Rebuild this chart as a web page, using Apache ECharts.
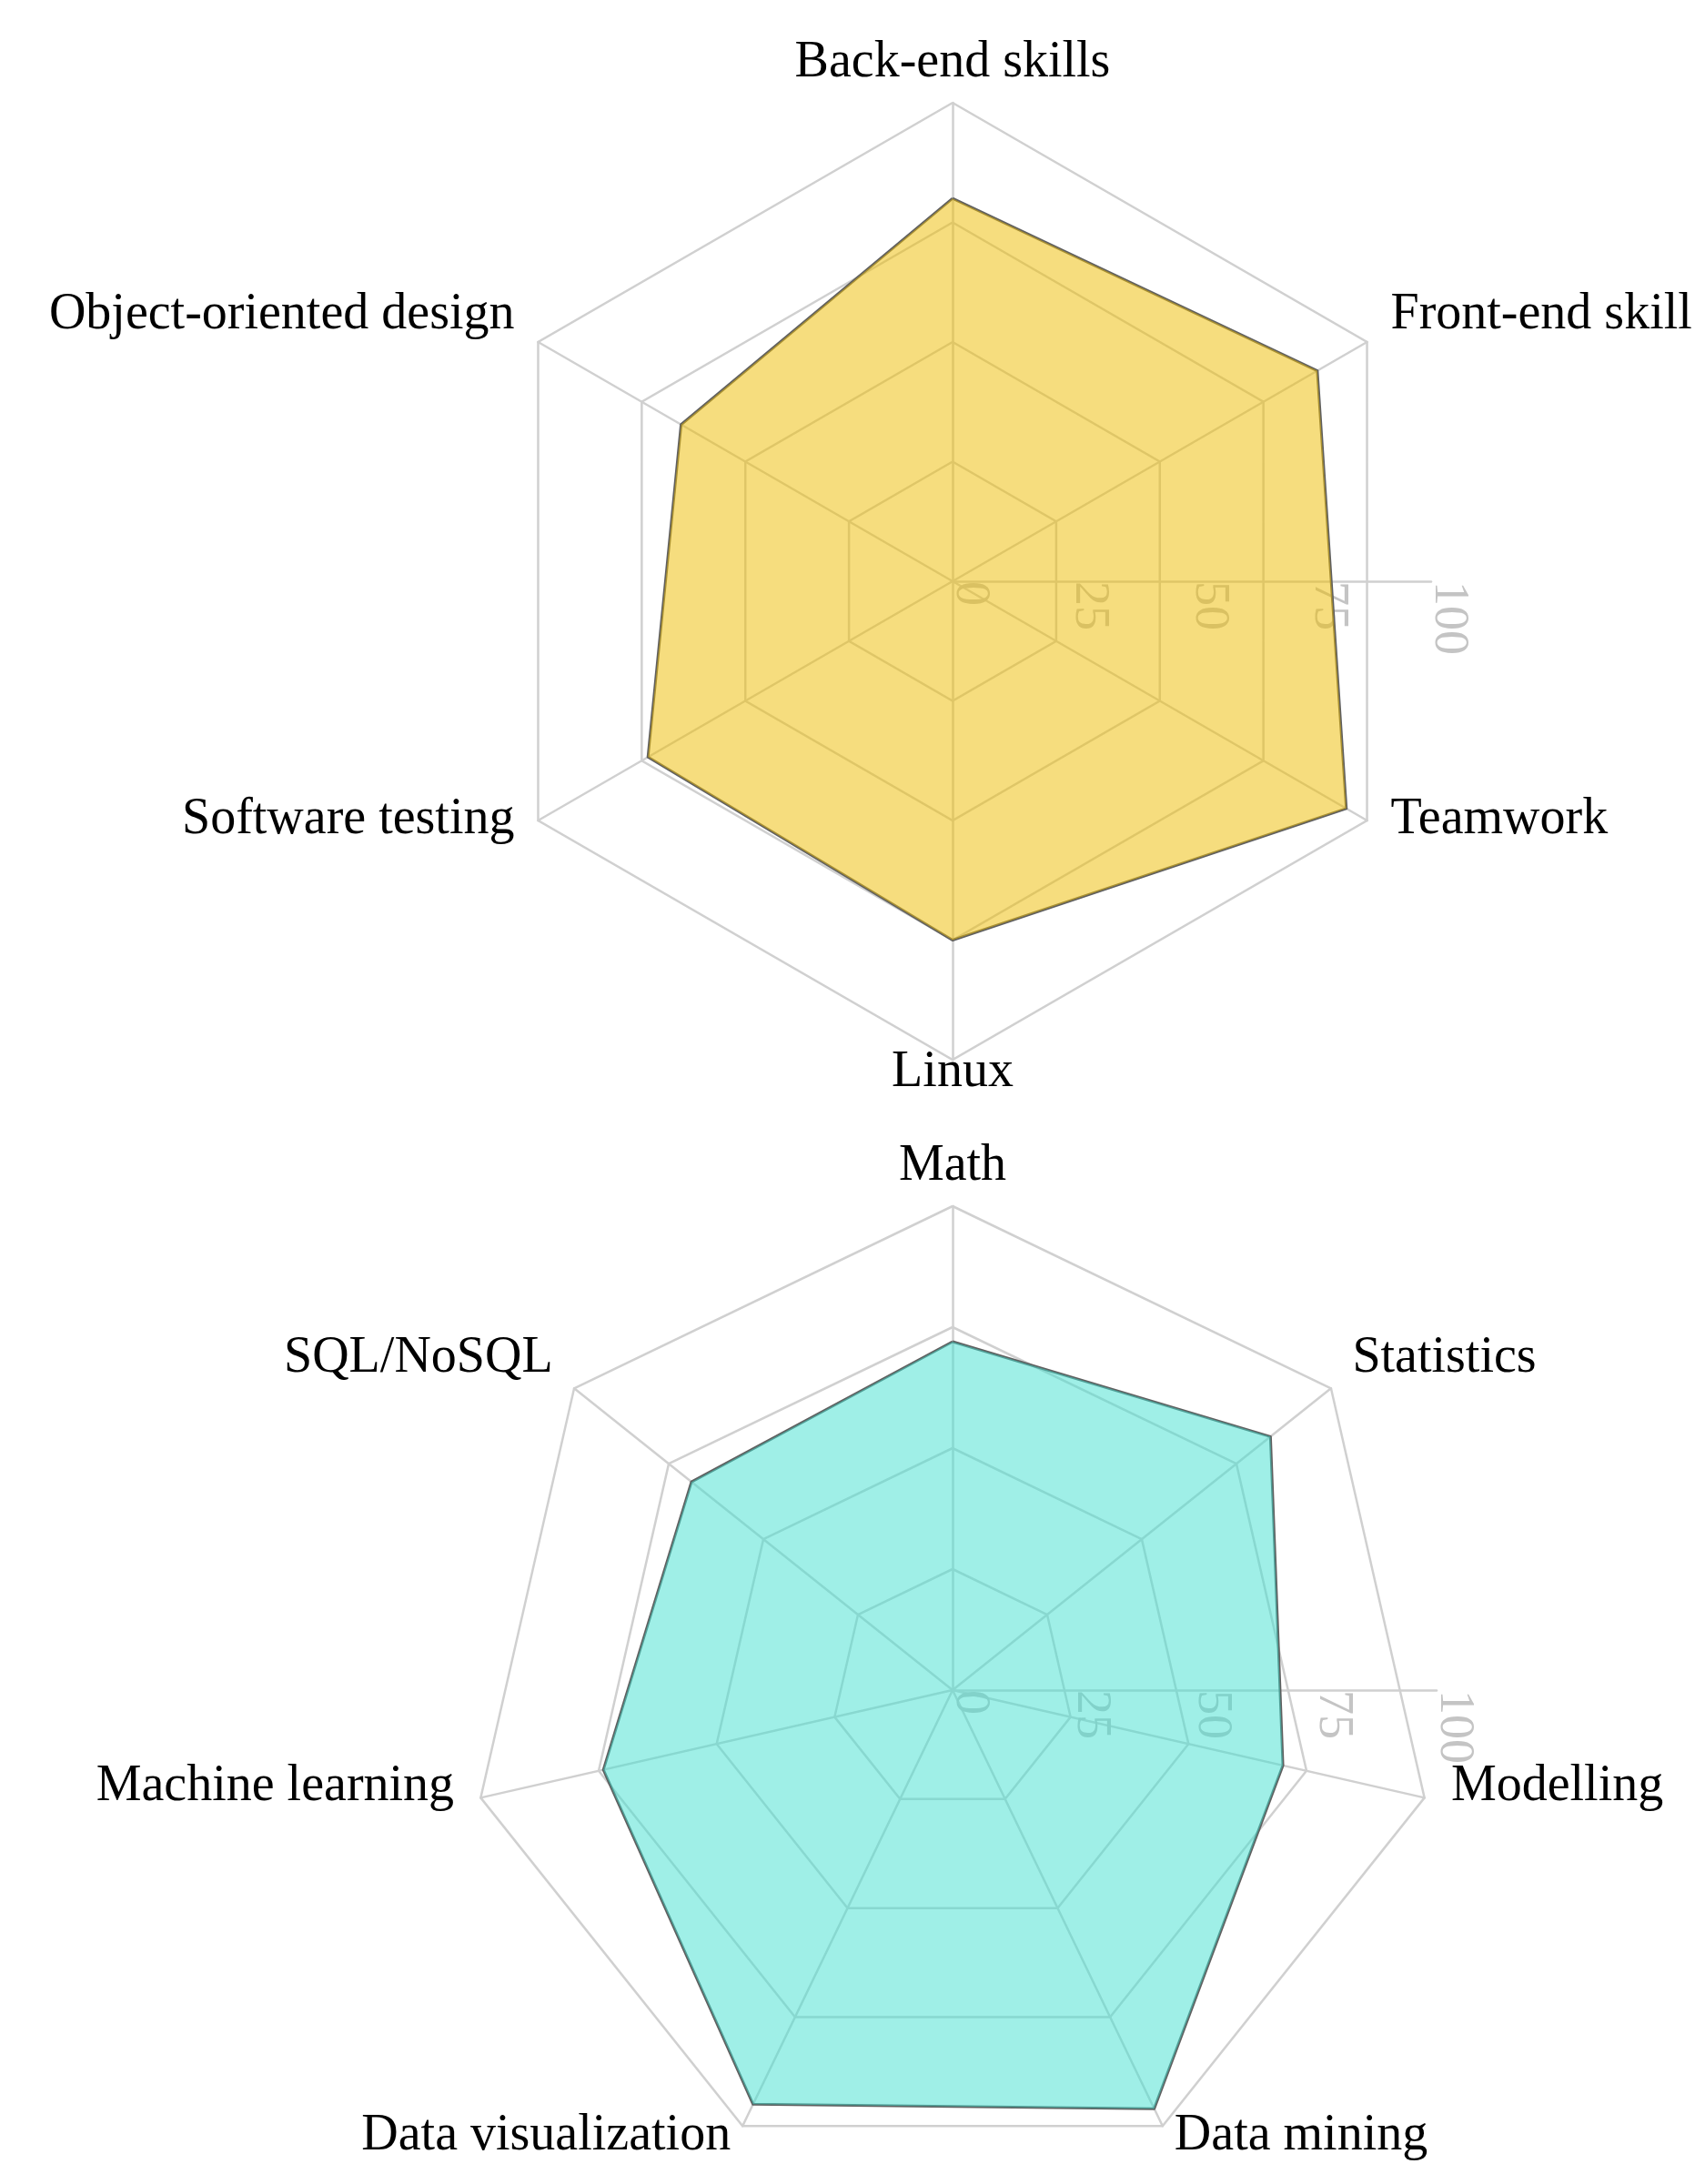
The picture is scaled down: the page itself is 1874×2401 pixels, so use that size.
<!DOCTYPE html>
<html><head><meta charset="utf-8">
<script src="https://cdn.jsdelivr.net/npm/echarts@6/dist/echarts.min.js"></script>
<style>html,body{margin:0;padding:0;background:#fff;overflow:hidden}#c{width:1862px;height:2401px}</style>
</head><body><div id="c"></div>
<script>
// ---- data ----
const topCategories = ['Back-end skills', 'Front-end skills', 'Teamwork', 'Linux', 'Software testing', 'Object-oriented design'];
const topValues = [80, 88, 95, 75, 73.5, 65.5];
const bottomCategories = ['Math', 'Statistics', 'Modelling', 'Data mining', 'Data visualization', 'Machine learning', 'SQL/NoSQL'];
const bottomValues = [72, 84, 70, 96, 95, 74, 69];
const radialTickLabels = [0, 25, 50, 75, 100];

// ---- style ----
const FONT = 'Liberation Serif';
const GRID = '#d0d0d0';
const LABEL_SIZE = 56;
const charts = [
  { cats: topCategories, vals: topValues, center: [1047, 639], radius: 526, margin: -70, fill: 'rgba(238,189,8,0.52)' },
  { cats: bottomCategories, vals: bottomValues, center: [1047, 1858], radius: 532, margin: -56, fill: 'rgba(64,224,208,0.5)' }
];

// radar indicators run counter-clockwise; categories are listed clockwise from the top
function ccw(arr) { return [arr[0]].concat(arr.slice(1).reverse()); }

// label placement rule: text sits ~30px outside each vertex, baseline at radial offset
function labelItems(cats, R, m) {
  const N = cats.length, L = LABEL_SIZE, RAD = 30, UP = 15, BASE = 29;
  return cats.map(function (name, i) {
    const a = (90 - i * 360 / N) * Math.PI / 180;
    const c = Math.cos(a), s = Math.sin(a);
    const px = (R + m) * c, py = (R + m) * s;
    const ha = Math.abs(px) / R < 0.3 ? 'center' : (px > 0 ? 'left' : 'right');
    const va = Math.abs(py) / R < 0.3 ? 'middle' : (py < 0 ? 'top' : 'bottom');
    let pl = 0, pr = 0, pt = 0, pb = 0;
    const dx = (RAD - m) * c;
    if (ha === 'left') pl = dx;
    else if (ha === 'right') pr = -dx;
    else { if (dx >= 0) pl = 2 * dx; else pr = -2 * dx; }
    if (va === 'top') pt = (m - BASE) * s - UP - L / 2;
    else if (va === 'bottom') pb = (BASE - m) * s + UP - L / 2;
    return { value: name, textStyle: { padding: [pt, pr, pb, pl], lineHeight: L } };
  });
}

const radar = [], polar = [], angleAxis = [], radiusAxis = [], series = [];
charts.forEach(function (ch, k) {
  radar.push({
    center: ch.center, radius: ch.radius, startAngle: 90, shape: 'polygon', splitNumber: 4, z: 1,
    indicator: ccw(ch.cats).map(function (n) { return { name: n, min: radialTickLabels[0], max: radialTickLabels[radialTickLabels.length - 1] }; }),
    axisName: { show: false },
    axisLine: { lineStyle: { color: GRID, width: 2.5 } },
    splitLine: { lineStyle: { color: GRID, width: 2.5 } },
    splitArea: { show: false },
    axisTick: { show: false },
    axisLabel: { show: false }
  });
  // polar for category labels
  polar.push({ center: ch.center, radius: ch.radius });
  const pl = polar.length - 1;
  angleAxis.push({
    polarIndex: pl, type: 'category', data: labelItems(ch.cats, ch.radius, ch.margin),
    startAngle: 90, clockwise: true, boundaryGap: false, z: 5,
    axisLine: { show: false }, axisTick: { show: false }, splitLine: { show: false }, splitArea: { show: false },
    axisLabel: { show: true, interval: 0, margin: ch.margin, fontFamily: FONT, fontSize: LABEL_SIZE, color: '#000', lineHeight: LABEL_SIZE }
  });
  radiusAxis.push({ polarIndex: pl, type: 'value', min: 0, max: 100, show: false });
  // polar for radial tick axis pointing right
  polar.push({ center: ch.center, radius: ch.radius });
  const pr = polar.length - 1;
  angleAxis.push({ polarIndex: pr, type: 'value', startAngle: 0, show: false, min: 0, max: 360 });
  radiusAxis.push({
    polarIndex: pr, type: 'value', z: 1,
    min: radialTickLabels[0], max: radialTickLabels[radialTickLabels.length - 1],
    interval: radialTickLabels[1] - radialTickLabels[0],
    axisLine: { show: true, lineStyle: { color: GRID, width: 2.5 } },
    axisTick: { show: false }, splitLine: { show: false }, splitArea: { show: false },
    axisLabel: {
      show: true, rotate: -90, align: 'left', verticalAlign: 'bottom', lineHeight: 38, margin: 0,
      fontFamily: FONT, fontSize: 54, color: '#c4c4c4', showMinLabel: true, showMaxLabel: true,
      formatter: function (v) { return radialTickLabels.indexOf(v) >= 0 ? String(v) : ''; }
    }
  });
  series.push({
    type: 'radar', radarIndex: k, z: 4, symbol: 'none', silent: true,
    data: [{ value: ccw(ch.vals) }],
    lineStyle: { color: '#5f5f5f', width: 3 },
    itemStyle: { color: '#5f5f5f' },
    areaStyle: { color: ch.fill, opacity: 1 }
  });
});

const chart = echarts.init(document.getElementById('c'), null, { renderer: 'canvas' });
chart.setOption({ animation: false, backgroundColor: '#fff', radar: radar, polar: polar, angleAxis: angleAxis, radiusAxis: radiusAxis, series: series });
</script></body></html>
